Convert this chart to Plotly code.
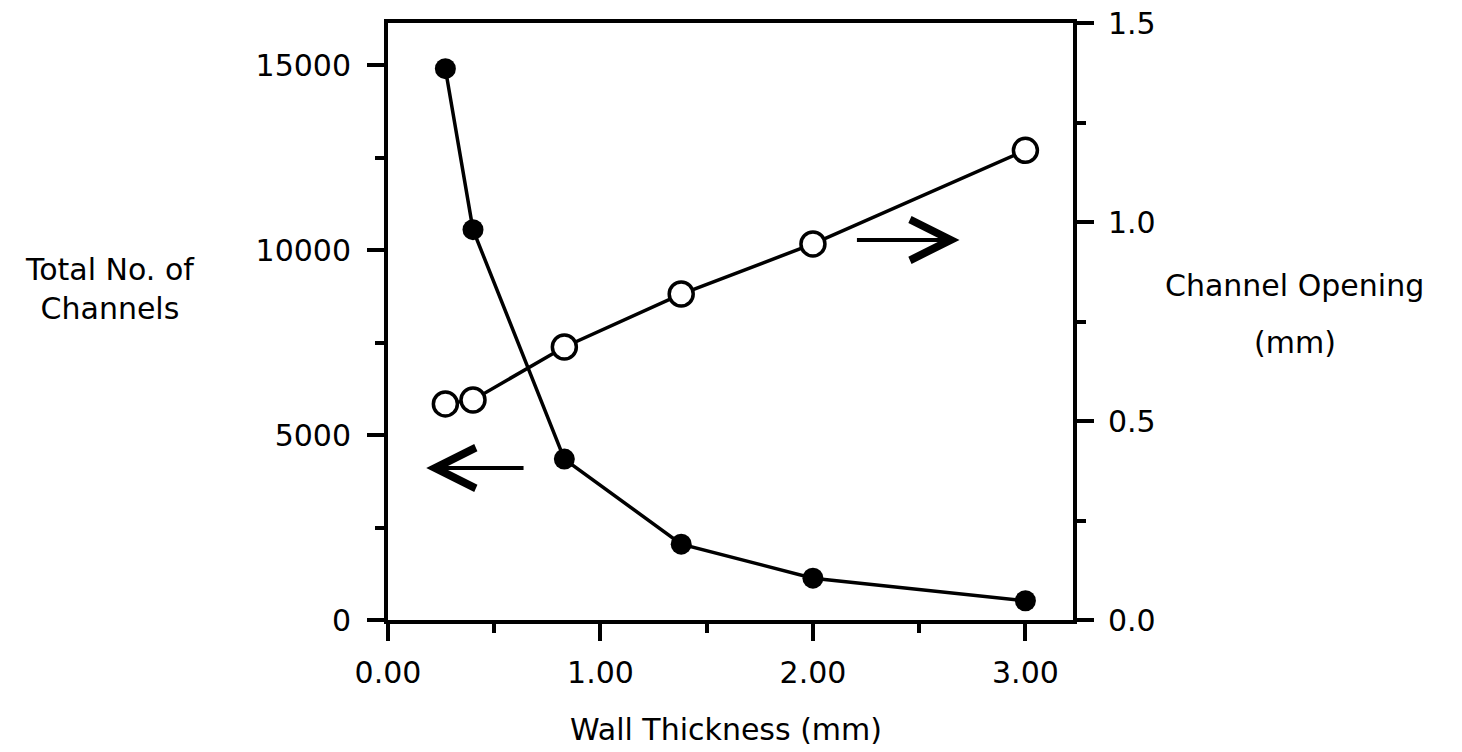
import plotly.graph_objects as go

# Data
wall_thickness = [0.27, 0.40, 0.83, 1.38, 2.00, 3.00]
total_channels = [14900, 10550, 4350, 2050, 1130, 520]
wall_thickness_open = [0.27, 0.40, 0.83, 1.38, 2.00, 3.00]
channel_opening = [0.543, 0.553, 0.686, 0.819, 0.945, 1.180]

x_ticks = [0, 1, 2, 3]
left_ticks = [0, 5000, 10000, 15000]
right_ticks = [0.0, 0.5, 1.0, 1.5]

FONT = "DejaVu Sans"
FS = 30
BLACK = "#000000"

fig = go.Figure()

fig.add_trace(go.Scatter(
    x=wall_thickness_open, y=channel_opening, yaxis="y2",
    mode="lines+markers",
    line=dict(color=BLACK, width=3.5),
    marker=dict(symbol="circle", size=24, color="white",
                line=dict(color=BLACK, width=3.5)),
    showlegend=False, cliponaxis=False,
))
fig.add_trace(go.Scatter(
    x=wall_thickness, y=total_channels, yaxis="y",
    mode="lines+markers",
    line=dict(color=BLACK, width=3.5),
    marker=dict(symbol="circle", size=21, color=BLACK),
    showlegend=False, cliponaxis=False,
))

axis_common = dict(
    showline=True, linecolor=BLACK, linewidth=4,
    ticks="outside", tickcolor=BLACK, tickwidth=4, ticklen=17,
    showgrid=False, zeroline=False, ticklabeloverflow="allow",
    automargin=False,
    tickfont=dict(family=FONT, size=FS, color=BLACK),
)

fig.update_layout(
    width=1462, height=752,
    margin=dict(l=388, r=389, t=23, b=132),
    paper_bgcolor="white", plot_bgcolor="white",
    font=dict(family=FONT, size=FS, color=BLACK),
    xaxis=dict(
        range=[0, 3.224], tickvals=x_ticks, tickformat=".2f",
        mirror=True, ticklabelstandoff=6,
        minor=dict(dtick=0.5, tick0=0, ticks="outside", ticklen=9,
                   tickwidth=4, tickcolor=BLACK, showgrid=False),
        **axis_common,
    ),
    yaxis=dict(
        range=[0, 16135], tickvals=left_ticks, tickformat="d",
        ticklabelstandoff=10,
        minor=dict(dtick=2500, tick0=0, ticks="outside", ticklen=9,
                   tickwidth=4, tickcolor=BLACK, showgrid=False),
        **axis_common,
    ),
    yaxis2=dict(
        range=[0, 1.5], tickvals=right_ticks, tickformat=".1f",
        overlaying="y", side="right", anchor="x",
        ticklabelstandoff=8,
        minor=dict(dtick=0.25, tick0=0, ticks="outside", ticklen=9,
                   tickwidth=4, tickcolor=BLACK, showgrid=False),
        **axis_common,
    ),
)

# Axis titles (horizontal text, as in the reference)
titles = [
    ("Total No. of<br>Channels", -0.406, 0.555),
    ("Channel Opening", 1.324, 0.561),
    ("(mm)", 1.324, 0.464),
    ("Wall Thickness (mm)", 0.494, -0.184),
]
for text, xp, yp in titles:
    fig.add_annotation(text=text, x=xp, y=yp, xref="paper", yref="paper",
                       xanchor="center", yanchor="middle", showarrow=False,
                       align="center",
                       font=dict(family=FONT, size=FS, color=BLACK))

# Direction arrows
fig.add_annotation(x=0.18, y=4108, ax=0.645, ay=4108,
                   xref="x", yref="y", axref="x", ayref="y",
                   text="", showarrow=True, arrowhead=5, arrowsize=2,
                   arrowwidth=4, arrowcolor=BLACK)
fig.add_annotation(x=2.69, y=0.955, ax=2.20, ay=0.955,
                   xref="x", yref="y2", axref="x", ayref="y2",
                   text="", showarrow=True, arrowhead=5, arrowsize=2,
                   arrowwidth=4, arrowcolor=BLACK)

fig.write_html("out.html",
               config={"displayModeBar": False},
               post_script="document.body.style.margin='0';"
                           "document.body.style.overflow='hidden';")
